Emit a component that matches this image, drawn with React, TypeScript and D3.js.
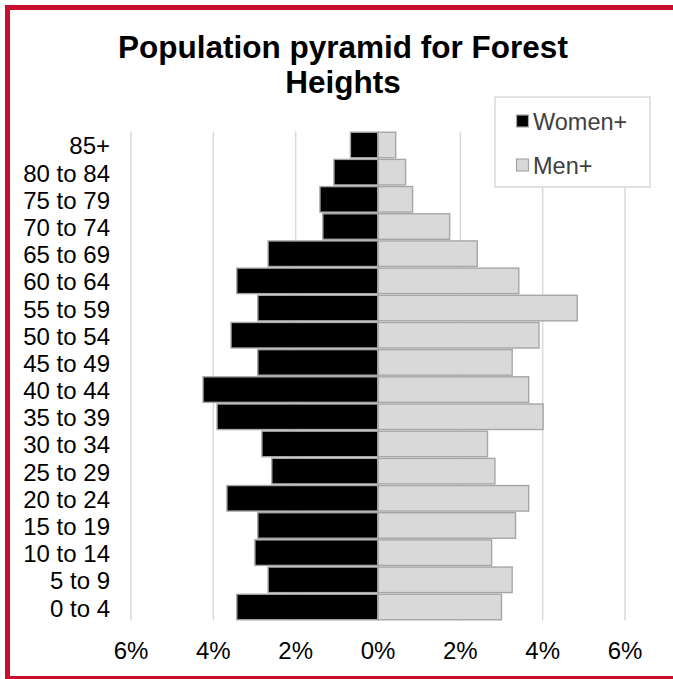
import React from "react";
import * as d3 from "d3";

// ── Data (percent of total population) ───────────────────────────────────────
const AGE_GROUPS = [
  "85+", "80 to 84", "75 to 79", "70 to 74", "65 to 69", "60 to 64",
  "55 to 59", "50 to 54", "45 to 49", "40 to 44", "35 to 39", "30 to 34",
  "25 to 29", "20 to 24", "15 to 19", "10 to 14", "5 to 9", "0 to 4",
];
const WOMEN = [
  0.67, 1.07, 1.41, 1.34, 2.67, 3.43, 2.92, 3.57, 2.92,
  4.25, 3.91, 2.82, 2.58, 3.67, 2.92, 2.99, 2.67, 3.43,
];
const MEN = [
  0.43, 0.67, 0.84, 1.74, 2.41, 3.42, 4.84, 3.91, 3.26,
  3.66, 4.01, 2.66, 2.84, 3.66, 3.34, 2.76, 3.26, 3.0,
];
const X_TICKS = [-6, -4, -2, 0, 2, 4, 6];
const SERIES = ["Women+", "Men+"];

// ── Layout ───────────────────────────────────────────────────────────────────
const W = 673;
const H = 679;
const PLOT = { left: 131, right: 625, top: 131.4, bottom: 620.6 };
const FONT = "'Liberation Sans', Arial, Helvetica, sans-serif";
const FRAME = "#C8102E";
const GRID = "#D9D9D9";
const BAR_STROKE = "#A6A6A6";
const FILL = { women: "#000000", men: "#D9D9D9" };

export default function App() {
  const x = d3.scaleLinear().domain([-6, 6]).range([PLOT.left, PLOT.right]);
  const y = d3
    .scaleBand<string>()
    .domain(AGE_GROUPS)
    .range([PLOT.top, PLOT.bottom])
    .paddingInner(0.06)
    .paddingOuter(0.03);

  return (
    <svg
      width={W}
      height={H}
      style={{ position: "absolute", left: 0, top: 0, background: "#fff" }}
      fontFamily={FONT}
    >
      <rect x={0} y={0} width={W} height={H} fill="#fff" />

      {/* Frame (right edge falls off the canvas) */}
      <rect
        x={7.5}
        y={7.5}
        width={670}
        height={671}
        fill="none"
        stroke={FRAME}
        strokeWidth={5}
      />

      {/* Title */}
      <text x={343} y={58} textAnchor="middle" fontSize={31.5} fontWeight="bold" fill="#000">
        Population pyramid for Forest
      </text>
      <text x={343} y={93} textAnchor="middle" fontSize={31.5} fontWeight="bold" fill="#000">
        Heights
      </text>

      {/* Vertical grid lines */}
      {X_TICKS.filter((t) => t !== 0).map((t) => (
        <line
          key={t}
          x1={x(t)}
          x2={x(t)}
          y1={PLOT.top}
          y2={PLOT.bottom}
          stroke={GRID}
          strokeWidth={1.5}
        />
      ))}

      {/* Bars */}
      {AGE_GROUPS.map((g, i) => (
        <g key={g}>
          <rect
            x={x(-WOMEN[i])}
            y={y(g)!}
            width={x(0) - x(-WOMEN[i])}
            height={y.bandwidth()}
            fill={FILL.women}
            stroke={BAR_STROKE}
            strokeWidth={1.4}
          />
          <rect
            x={x(0)}
            y={y(g)!}
            width={x(MEN[i]) - x(0)}
            height={y.bandwidth()}
            fill={FILL.men}
            stroke={BAR_STROKE}
            strokeWidth={1.4}
          />
        </g>
      ))}

      {/* Zero axis line */}
      <line
        x1={x(0)}
        x2={x(0)}
        y1={PLOT.top}
        y2={PLOT.bottom}
        stroke={BAR_STROKE}
        strokeWidth={1.4}
      />

      {/* Category labels */}
      {AGE_GROUPS.map((g) => (
        <text
          key={g}
          x={110}
          y={y(g)! + y.bandwidth() / 2 + 1}
          textAnchor="end"
          dominantBaseline="central"
          fontSize={24}
          fill="#000"
        >
          {g}
        </text>
      ))}

      {/* X tick labels */}
      {X_TICKS.map((t) => (
        <text
          key={t}
          x={x(t)}
          y={PLOT.bottom + 38}
          textAnchor="middle"
          fontSize={24}
          fill="#000"
        >
          {`${Math.abs(t)}%`}
        </text>
      ))}

      {/* Legend */}
      <g>
        <rect
          x={495}
          y={97}
          width={155}
          height={90}
          fill="#fff"
          stroke={GRID}
          strokeWidth={1.5}
        />
        {SERIES.map((s, i) => {
          const cy = 121 + i * 44;
          return (
            <g key={s}>
              <rect
                x={516.5}
                y={cy - 6}
                width={12}
                height={12}
                fill={i === 0 ? FILL.women : FILL.men}
                stroke={BAR_STROKE}
                strokeWidth={1.2}
              />
              <text
                x={533}
                y={cy + 1}
                dominantBaseline="central"
                fontSize={23.5}
                fill="#404040"
              >
                {s}
              </text>
            </g>
          );
        })}
      </g>
    </svg>
  );
}
